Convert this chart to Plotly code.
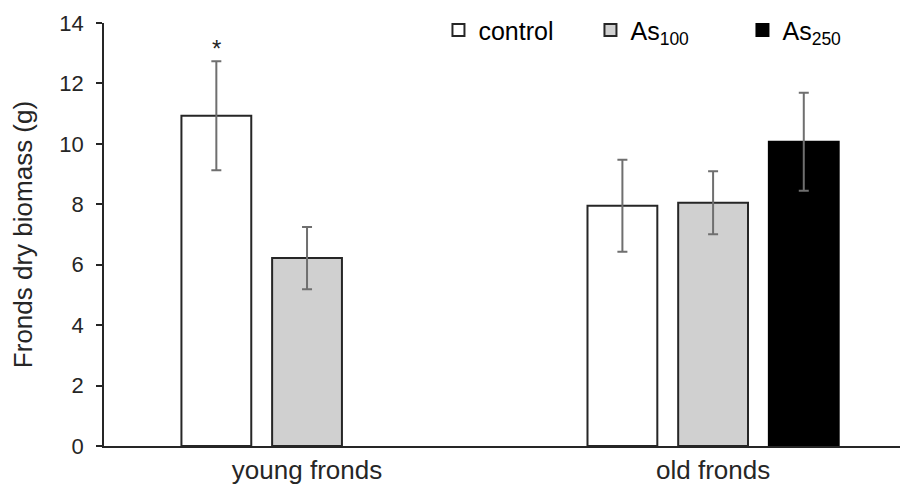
import plotly.graph_objects as go

categories = ["young fronds", "old fronds"]
series_names = ["control", "As<sub>100</sub>", "As<sub>250</sub>"]
control_vals = [10.93, 7.95]
control_err = [1.80, 1.52]
as100_vals = [6.22, 8.05]
as100_err = [1.03, 1.04]
as250_vals = [None, 10.07]
as250_err = [None, 1.62]
star_text = "*"
star_y = 13.15

fills = ["#ffffff", "#d0d0d0", "#000000"]
outlines = ["#262626", "#262626", "#000000"]

FONT = "Liberation Sans, Arial, sans-serif"

fig = go.Figure()
for name, vals, errs, fc, lc in zip(
    series_names,
    [control_vals, as100_vals, as250_vals],
    [control_err, as100_err, as250_err],
    fills, outlines,
):
    fig.add_trace(go.Bar(
        x=categories, y=vals, name=name,
        marker=dict(color=fc, line=dict(color=lc, width=2)),
        error_y=dict(type="data", array=errs, visible=True,
                     color="#6f6f6f", thickness=2, width=5),
    ))

bargap = 0.33
bargroupgap = 0.23
slot = (1 - bargap) / 3
fig.add_annotation(x=0 - slot, y=star_y, xref="x", yref="y", text=star_text,
                   showarrow=False, font=dict(size=24, color="#262626", family=FONT))

# page body has an 8px default margin, so the figure is offset by (8, 8)
fig.update_layout(
    width=908, height=490,
    margin=dict(l=96, r=8, t=15, b=52, autoexpand=False),
    paper_bgcolor="white", plot_bgcolor="white",
    barmode="group", bargap=bargap, bargroupgap=bargroupgap,
    font=dict(family=FONT, size=22, color="#262626"),
    showlegend=True,
    legend=dict(orientation="h", x=0.416, y=0.983, xanchor="left", yanchor="middle",
                font=dict(size=25, family=FONT, color="#000000"),
                entrywidth=107, bgcolor="rgba(0,0,0,0)", itemwidth=30),
    xaxis=dict(range=[-0.5, 1.48], showline=True, linecolor="#262626", linewidth=1.5,
               ticks="", tickfont=dict(size=26, family=FONT, color="#262626"),
               showgrid=False, zeroline=False, automargin=False),
    yaxis=dict(range=[0, 14], dtick=2, showline=True, linecolor="#262626", linewidth=1.5,
               ticks="outside", ticklen=6, tickcolor="#262626", tickwidth=1.5,
               ticklabelstandoff=8,
               tickfont=dict(size=22, family=FONT, color="#262626"),
               showgrid=False, zeroline=False, automargin=False,
               title=dict(text="Fronds dry biomass (g)", standoff=25,
                          font=dict(size=26, family=FONT, color="#262626"))),
)

fig.write_html("out.html")
